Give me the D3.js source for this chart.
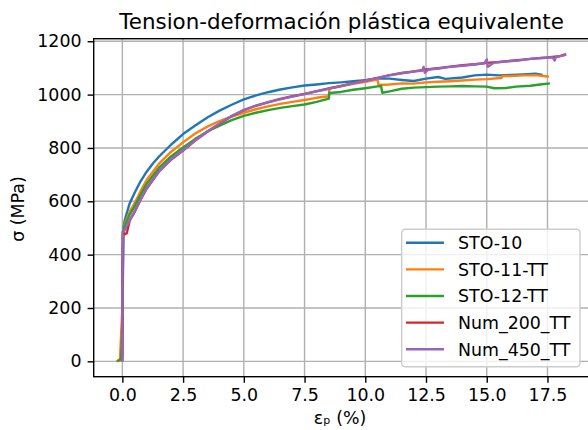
<!DOCTYPE html>
<html>
<head>
<meta charset="utf-8">
<script src="https://cdn.jsdelivr.net/npm/d3@7"></script>
<style>
  body { margin: 0; background: #fff; }
  text { font-family: "DejaVu Sans", sans-serif; fill: #000; }
</style>
</head>
<body>
<svg width="588" height="430"></svg>
<script>
var title = "Tension-deformación plástica equivalente";
var xLabel = "εₚ (%)";
var yLabel = "σ (MPa)";

var names = ["STO-10", "STO-11-TT", "STO-12-TT", "Num_200_TT", "Num_450_TT"];
var colors = ["#1f77b4", "#ff7f0e", "#2ca02c", "#d62728", "#9467bd"];

var xTicks = [0, 2.5, 5, 7.5, 10, 12.5, 15, 17.5];
var yTicks = [0, 200, 400, 600, 800, 1000, 1200];

// [eps_p %, sigma MPa]
var sto10 = [[-0.05,0],[0.0,20],[0.02,300],[0.05,505],[0.1,530],[0.3,592],[0.5,631],[0.75,675],[1.0,711],[1.25,741],[1.5,767],[2.0,812],[2.5,852],[3.0,884],[3.5,914],[4.0,940],[4.5,962],[5.0,982],[5.5,997],[6.0,1009],[6.5,1019],[7.0,1027],[7.5,1034],[8.0,1038],[8.5,1043],[9.0,1046],[9.5,1050],[10.0,1054],[10.5,1061],[11.0,1060],[11.5,1055],[12.0,1051],[12.5,1060],[13.0,1066],[13.3,1059],[14.0,1064],[14.5,1072],[15.0,1075],[15.5,1072],[16.0,1074],[16.5,1076],[17.0,1078],[17.3,1074]];
var sto11 = [[-0.25,0],[-0.1,5],[0.0,200],[0.03,480],[0.08,511],[0.3,560],[0.5,592],[0.75,638],[1.0,680],[1.5,740],[2.0,785],[2.5,821],[3.0,854],[3.5,880],[4.0,901],[4.5,918],[5.0,932],[5.5,945],[6.0,956],[6.5,965],[7.0,973],[7.5,980],[8.0,988],[8.5,994],[8.52,1024],[9.0,1031],[9.5,1040],[10.0,1048],[10.5,1056],[10.55,1036],[11.0,1038],[11.5,1042],[12.0,1041],[12.5,1046],[13.0,1048],[13.5,1050],[14.0,1053],[14.5,1056],[15.0,1058],[15.6,1062],[15.65,1070],[16.0,1070],[16.5,1072],[17.0,1073],[17.5,1068],[17.55,1065]];
var sto12 = [[-0.2,0],[-0.05,10],[0.0,150],[0.03,470],[0.08,505],[0.3,550],[0.5,580],[0.75,625],[1.0,665],[1.5,725],[2.0,768],[2.5,802],[3.0,834],[3.5,862],[4.0,884],[4.5,904],[5.0,920],[5.5,932],[6.0,942],[6.5,950],[7.0,957],[7.5,963],[8.0,973],[8.5,985],[8.52,1006],[9.0,1010],[9.5,1018],[10.0,1024],[10.5,1031],[10.65,1032],[10.7,1007],[11.0,1012],[11.5,1022],[12.0,1026],[12.5,1028],[13.0,1030],[13.5,1031],[14.0,1032],[14.5,1031],[15.0,1030],[15.3,1024],[15.8,1025],[16.2,1030],[16.8,1033],[17.2,1038],[17.6,1042]];
var num200 = [[0.0,0],[0.0,300],[0.02,486],[0.08,476],[0.18,480],[0.3,527],[0.5,559],[0.75,606],[1.0,647],[1.5,711],[2.0,756],[2.5,790],[3.0,828],[3.5,861],[4.0,891],[4.5,919],[5.0,942],[5.5,959],[6.0,972],[6.5,984],[7.0,994],[7.5,1003],[8.0,1013],[8.5,1023],[9.0,1033],[9.5,1043],[10.0,1053],[10.5,1063],[11.0,1073],[11.5,1081],[12.0,1087],[12.5,1094],[13.0,1099],[13.5,1105],[14.0,1110],[14.5,1114],[15.0,1119],[15.5,1122],[16.0,1127],[16.5,1131],[17.0,1136],[17.5,1139],[18.0,1144],[18.27,1152]];
var num450 = [[0.0,0],[0.0,300],[0.02,488],[0.1,492],[0.3,530],[0.5,561],[0.75,607],[1.0,649],[1.5,712],[2.0,757],[2.5,792],[3.0,829],[3.5,862],[4.0,892],[4.5,920],[5.0,942],[5.5,958],[6.0,971],[6.5,982],[7.0,993],[7.5,1002],[8.0,1012],[8.5,1022],[9.0,1032],[9.5,1042],[10.0,1052],[10.5,1062],[11.0,1072],[11.5,1080],[12.0,1086],[12.35,1090],[12.4,1104],[12.45,1082],[12.6,1094],[13.0,1098],[13.5,1104],[14.0,1108],[14.5,1113],[14.9,1117],[15.0,1132],[15.05,1104],[15.3,1120],[15.8,1124],[16.3,1128],[16.8,1134],[17.3,1137],[17.7,1140],[17.8,1128],[17.85,1142],[18.1,1145],[18.27,1150]];

var series = [sto10, sto11, sto12, num200, num450];

var svg = d3.select("svg");
var mLeft = 93.7, mRight = 589.5, mTop = 38.7, mBottom = 376.7;

var x = d3.scaleLinear().domain([-1.18, 19.23]).range([mLeft, mRight]);
var y = d3.scaleLinear().domain([-57.6, 1209.6]).range([mBottom, mTop]);

// grid
svg.append("g").selectAll("line").data(xTicks).join("line")
  .attr("x1", d => x(d)).attr("x2", d => x(d))
  .attr("y1", mTop).attr("y2", mBottom)
  .attr("stroke", "#b0b0b0").attr("stroke-width", 1.4);
svg.append("g").selectAll("line").data(yTicks).join("line")
  .attr("x1", mLeft).attr("x2", mRight)
  .attr("y1", d => y(d)).attr("y2", d => y(d))
  .attr("stroke", "#b0b0b0").attr("stroke-width", 1.4);

// curves
var line = d3.line().x(d => x(d[0])).y(d => y(d[1]));
svg.append("g").selectAll("path").data(series).join("path")
  .attr("d", line)
  .attr("fill", "none")
  .attr("stroke", (d, i) => colors[i])
  .attr("stroke-width", 2.4)
  .attr("stroke-linejoin", "round");

// axes
var xAxis = svg.append("g").attr("transform", "translate(0," + mBottom + ")")
  .call(d3.axisBottom(x).tickValues(xTicks).tickFormat(d3.format(".1f")).tickSize(6.1).tickPadding(6.1));
var yAxis = svg.append("g").attr("transform", "translate(" + mLeft + ",0)")
  .call(d3.axisLeft(y).tickValues(yTicks).tickFormat(d3.format("d")).tickSize(6.1).tickPadding(6.1));
[xAxis, yAxis].forEach(function(a){
  a.select(".domain").remove();
  a.selectAll("line").attr("stroke", "#000").attr("stroke-width", 1.4);
  a.selectAll("text").style("font-size", "17.4px").attr("fill", "#000");
});

// spines
svg.append("rect")
  .attr("x", mLeft).attr("y", mTop)
  .attr("width", mRight - mLeft).attr("height", mBottom - mTop)
  .attr("fill", "none").attr("stroke", "#000").attr("stroke-width", 1.4);

// title and labels
svg.append("text").attr("x", (mLeft + mRight) / 2).attr("y", 29)
  .attr("text-anchor", "middle").style("font-size", "21.4px").text(title);
svg.append("text").attr("x", 340).attr("y", 424)
  .attr("text-anchor", "middle").style("font-size", "17.4px").text(xLabel);
svg.append("text").attr("transform", "translate(24,209) rotate(-90)")
  .attr("text-anchor", "middle").style("font-size", "17.4px").text(yLabel);

// legend
var lg = svg.append("g");
lg.append("rect").attr("x", 401.7).attr("y", 229.3).attr("width", 178.3).attr("height", 137.4)
  .attr("rx", 3.5).attr("fill", "#fff").attr("fill-opacity", 0.8)
  .attr("stroke", "#cccccc").attr("stroke-width", 1.4);
var rows = lg.selectAll("g.row").data(names).join("g")
  .attr("class", "row")
  .attr("transform", (d, i) => "translate(0," + (242.7 + i * 26.65) + ")");
rows.append("line").attr("x1", 406).attr("x2", 444)
  .attr("stroke", (d, i) => colors[i]).attr("stroke-width", 2.4);
rows.append("text").attr("x", 458).attr("y", 6.3)
  .style("font-size", "17.4px").text(d => d);
</script>
</body>
</html>
